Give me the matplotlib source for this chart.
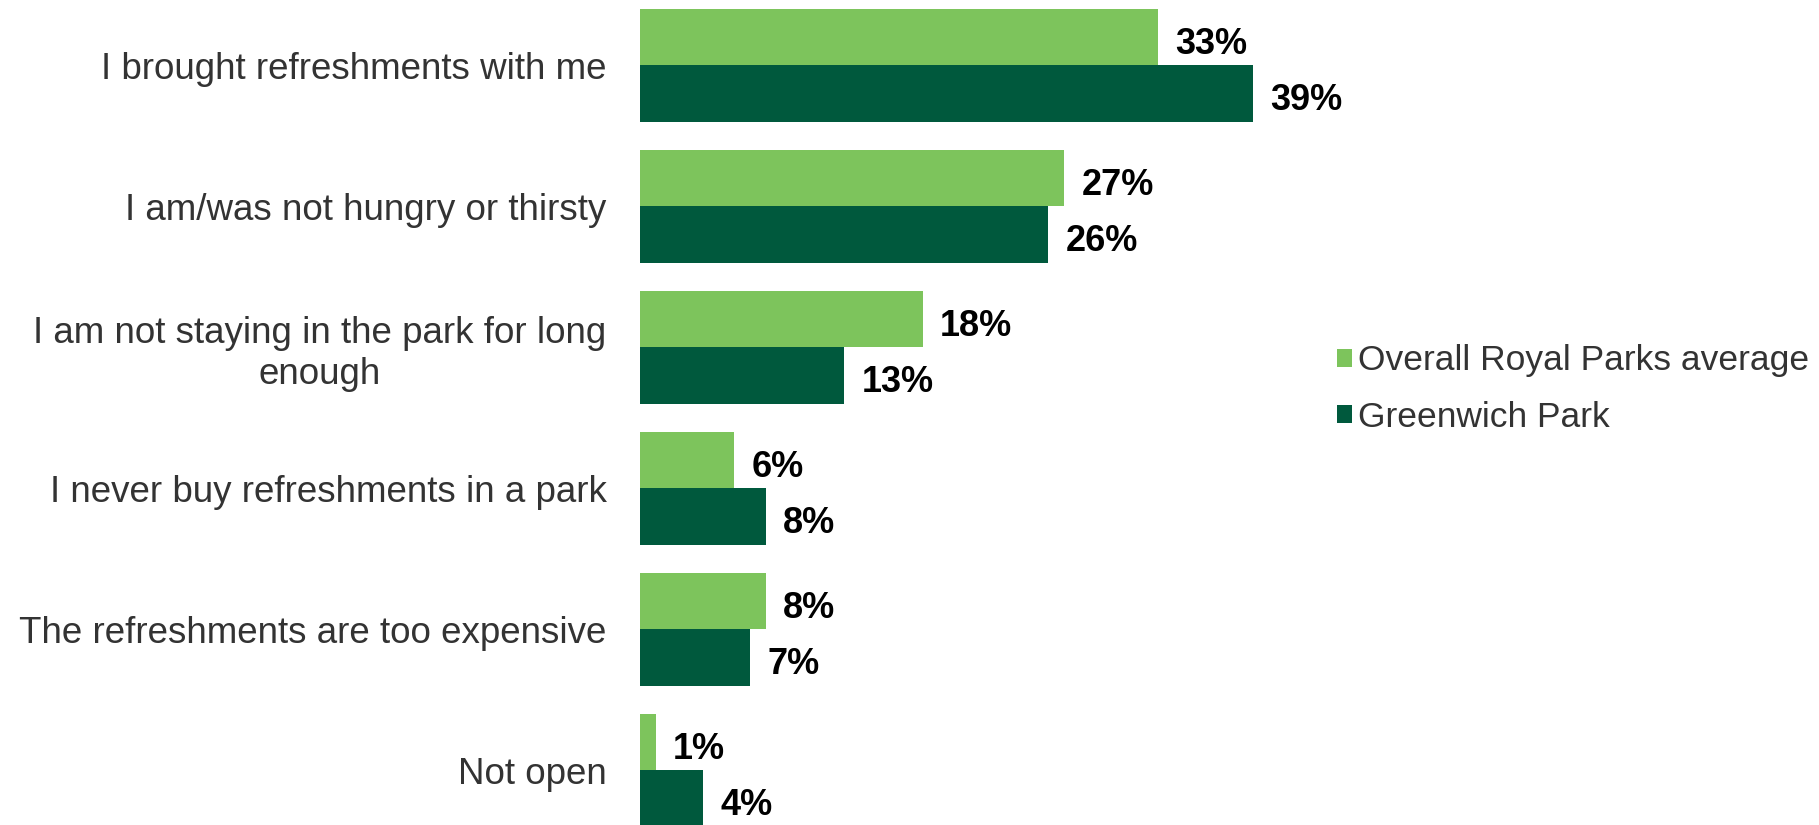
import matplotlib.pyplot as plt
import numpy as np

# Reasons for not buying refreshments
CATEGORIES = ["I brought refreshments with me",
              "I am/was not hungry or thirsty",
              "I am not staying in the park for long\nenough",
              "I never buy refreshments in a park",
              "The refreshments are too expensive",
              "Not open"]
OVERALL = [33, 27, 18, 6, 8, 1]
GREENWICH = [39, 26, 13, 8, 7, 4]
SERIES_NAMES = ["Overall Royal Parks average", "Greenwich Park"]
COLOURS = ["#7DC45C", "#00593D"]

plt.rcParams["font.family"] = ["Liberation Sans", "DejaVu Sans"]


def main():
	fig = plt.figure(figsize=(18.19, 8.25), dpi=100)
	ax = fig.add_axes([640 / 1819, 0, 1178 / 1819, 1])

	y = np.arange(len(CATEGORIES))
	h = 0.4
	bars_a = ax.barh(y - h / 2, OVERALL, height=h, color=COLOURS[0], label=SERIES_NAMES[0])
	bars_b = ax.barh(y + h / 2, GREENWICH, height=h, color=COLOURS[1], label=SERIES_NAMES[1])

	# Value labels beside each bar
	for bars, vals in ((bars_a, OVERALL), (bars_b, GREENWICH)):
		for b, v in zip(bars, vals):
			ax.text(b.get_width() + 1.1, b.get_y() + b.get_height() / 2 + 0.05, f"{v}%",
				ha="left", va="center", fontsize=26, fontweight="bold", color="black")

	ax.set_xlim(0, 75)
	ax.set_ylim(5.388, -0.463)
	ax.set_yticks(y)
	ax.set_yticklabels(CATEGORIES, fontsize=26.5, color="#333333")
	for lbl in ax.get_yticklabels():
		lbl.set_multialignment("center")
		lbl.set_linespacing(1.2)
	ax.tick_params(axis="y", length=0, pad=24)
	ax.set_xticks([])
	for s in ax.spines.values():
		s.set_visible(False)

	fig.legend(loc="center left", bbox_to_anchor=(1305 / 1819, 1 - 389 / 825),
		   frameon=False, fontsize=25.5, handlelength=0.42, handleheight=0.42,
		   handletextpad=0.18, labelspacing=0.65, labelcolor="#333333")

	plt.savefig("out.png")


if __name__ == "__main__":
	main()
